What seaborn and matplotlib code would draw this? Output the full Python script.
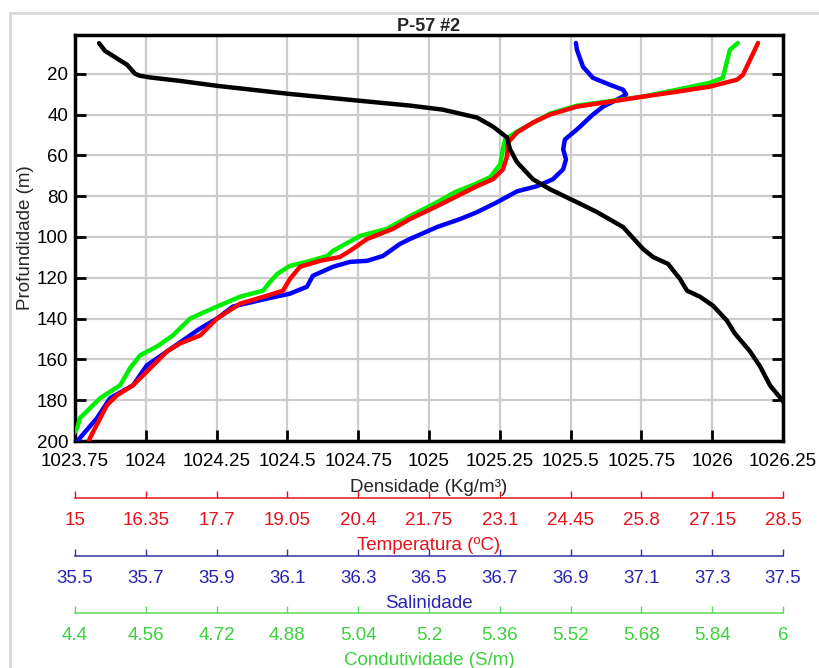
import matplotlib
matplotlib.use("Agg")
import matplotlib.pyplot as plt
import seaborn as sns
import pandas as pd
from matplotlib.patches import Rectangle

# ---------------- data ----------------
dens_depth = [5, 8.8, 15.6, 20, 21, 21.8, 23.5, 25.9, 29.8, 33.2, 35.6, 37.6, 41.5, 45.9,
              51.2, 57, 63.4, 71.7, 76.6, 83, 87.8, 95.1, 105.9, 109.8, 113.2, 120.5, 126.3,
              129.3, 133.7, 141, 147.3, 156, 163.4, 172.7, 180.5, 186]
dens_val = [1023.835, 1023.856, 1023.934, 1023.962, 1023.980, 1024.015, 1024.121, 1024.251,
            1024.502, 1024.753, 1024.933, 1025.049, 1025.170, 1025.226, 1025.275, 1025.286,
            1025.311, 1025.367, 1025.427, 1025.523, 1025.593, 1025.685, 1025.756, 1025.791,
            1025.844, 1025.886, 1025.911, 1025.957, 1026.003, 1026.052, 1026.080, 1026.133,
            1026.169, 1026.204, 1026.250, 1026.28]

sal_depth = [4.9, 8.3, 16.6, 22, 25.4, 27.8, 30.2, 32.7, 36.1, 40, 47.3, 52.2, 57, 62, 66.8,
             71.7, 75.1, 77.6, 83, 87.8, 91.2, 95.1, 101, 103.4, 109.3, 111.7, 112.2, 114.6,
             119, 124.4, 127.8, 130.2, 134.1, 140, 144.9, 156.1, 162.9, 172.7, 179, 188.8,
             198.5, 201]
sal_val = [36.915, 36.918, 36.935, 36.963, 37.011, 37.048, 37.057, 37.031, 36.992, 36.963,
           36.918, 36.884, 36.879, 36.887, 36.879, 36.850, 36.805, 36.749, 36.692, 36.636,
           36.588, 36.523, 36.446, 36.418, 36.370, 36.325, 36.277, 36.229, 36.172, 36.155,
           36.107, 36.042, 35.946, 35.901, 35.853, 35.760, 35.703, 35.664, 35.599, 35.562,
           35.514, 35.505]

temp_depth = [4.9, 13.2, 20.5, 22.9, 26.3, 28.8, 31.2, 33.7, 36.1, 40, 43.9, 48.8, 53.7, 60.5,
              66.8, 71.7, 75.1, 80, 84.9, 91.2, 96, 101, 106.8, 109.8, 111.7, 114.6, 120.5,
              126.3, 128.8, 132.7, 140, 148.3, 152.2, 156.1, 165.9, 172.7, 177.6, 182.4,
              198.5, 201]
temp_val = [28.024, 27.871, 27.737, 27.623, 27.108, 26.479, 25.831, 25.201, 24.572, 24.057,
            23.733, 23.428, 23.256, 23.237, 23.161, 22.970, 22.665, 22.284, 21.903, 21.388,
            21.064, 20.568, 20.244, 20.053, 19.672, 19.290, 19.100, 18.966, 18.661, 18.146,
            17.708, 17.384, 17.002, 16.754, 16.373, 16.106, 15.801, 15.610, 15.286, 15.25]

cond_depth = [4.9, 8.3, 22, 24.4, 27.8, 31.2, 35.6, 39.5, 48.3, 52.2, 57, 64.4, 70.7, 74.1,
              78, 83, 89.8, 96, 99.5, 106.8, 109.3, 112.2, 114.1, 118.1, 122, 126.3, 129.3,
              134.1, 140, 148.3, 153.7, 158, 164.4, 172.7, 179, 188.8, 193.7, 200]
cond_val = [5.898, 5.880, 5.864, 5.835, 5.761, 5.684, 5.535, 5.474, 5.399, 5.372, 5.367,
            5.361, 5.338, 5.304, 5.259, 5.218, 5.157, 5.105, 5.044, 4.983, 4.970, 4.924,
            4.886, 4.857, 4.841, 4.825, 4.773, 4.721, 4.660, 4.621, 4.585, 4.547, 4.524,
            4.502, 4.457, 4.411, 4.405, 4.385]

dens_ticks = [1023.75, 1024, 1024.25, 1024.5, 1024.75, 1025, 1025.25, 1025.5, 1025.75, 1026, 1026.25]
dens_labels = ["1023.75", "1024", "1024.25", "1024.5", "1024.75", "1025", "1025.25",
               "1025.5", "1025.75", "1026", "1026.25"]
temp_ticks = [15, 16.35, 17.7, 19.05, 20.4, 21.75, 23.1, 24.45, 25.8, 27.15, 28.5]
sal_ticks = [35.5, 35.7, 35.9, 36.1, 36.3, 36.5, 36.7, 36.9, 37.1, 37.3, 37.5]
cond_ticks = [4.4, 4.56, 4.72, 4.88, 5.04, 5.2, 5.36, 5.52, 5.68, 5.84, 6]
depth_ticks = [20, 40, 60, 80, 100, 120, 140, 160, 180, 200]

title = "P-57 #2"

# ---------------- style ----------------
sns.set_style("white")
plt.rcParams["font.family"] = ["Liberation Sans", "DejaVu Sans"]
plt.rcParams["font.size"] = 13.5

W, H = 819, 668
fig = plt.figure(figsize=(W / 100, H / 100), dpi=100)

L, R = 75 / W, 783 / W
T, B = 1 - 35 / H, 1 - 441 / H
ax = fig.add_axes([L, B, R - L, T - B])

# outer light frame
fig.patches.append(Rectangle((10 / W, -0.2), 1.5, 1.2 - 13 / H, transform=fig.transFigure,
                             fill=False, edgecolor="#d9d9d9", linewidth=2, zorder=-10))

ax.set_xlim(dens_ticks[0], dens_ticks[-1])
ax.set_ylim(200, 1)
ax.set_xticks(dens_ticks)
ax.set_xticklabels(dens_labels)
ax.set_yticks(depth_ticks)
ax.grid(True, color="#cccccc", linewidth=1.6)
ax.set_axisbelow(True)
for s in ax.spines.values():
    s.set_linewidth(2.5)
    s.set_color("black")
ax.tick_params(direction="in", top=True, right=True, bottom=True, left=True,
               length=8, width=2, labelsize=13.5, colors="black")
ax.tick_params(axis="x", pad=9)
ax.tick_params(axis="y", pad=5)
ax.set_xlabel("Densidade (Kg/m³)", fontsize=13.5, labelpad=6)
ax.set_ylabel("Profundidade (m)", fontsize=13.5, labelpad=2)
ax.set_title(title, fontsize=13, fontweight="bold", pad=2)

lw = 3.2
series = [
    ("sal", sal_val, sal_depth, (sal_ticks[0], sal_ticks[-1]), "#0000ff"),
    ("cond", cond_val, cond_depth, (cond_ticks[0], cond_ticks[-1]), "#00ee00"),
    ("temp", temp_val, temp_depth, (temp_ticks[0], temp_ticks[-1]), "#ff0000"),
    ("dens", dens_val, dens_depth, (dens_ticks[0], dens_ticks[-1]), "black"),
]
for name, xv, yv, lim, col in series:
    tw = ax.twiny()
    tw.set_xlim(*lim)
    df = pd.DataFrame({"x": xv, "y": yv})
    sns.lineplot(data=df, x="x", y="y", sort=False, estimator=None, ax=tw,
                 color=col, linewidth=lw)
    tw.xaxis.set_visible(False)
    for s in tw.spines.values():
        s.set_visible(False)
    tw.set_xlabel("")
    tw.set_ylabel("")
ax.set_ylim(200, 1)

# secondary scales below
scales = [
    (498, temp_ticks, "Temperatura (ºC)", "#e3121c", "#e3121c"),
    (556, sal_ticks, "Salinidade", "#2626b0", "#3333aa"),
    (613, cond_ticks, "Condutividade (S/m)", "#3ad23a", "#5ad85a"),
]
for ypx, ticks, lab, tcol, lcol in scales:
    sa = fig.add_axes([L, 1 - ypx / H, R - L, 0.0001])
    sa.set_facecolor("none")
    for k in ("left", "right", "top"):
        sa.spines[k].set_visible(False)
    sa.spines["bottom"].set_color(lcol)
    sa.spines["bottom"].set_linewidth(1.1)
    sa.set_yticks([])
    sa.set_xlim(ticks[0], ticks[-1])
    sa.set_xticks(ticks)
    sa.set_xticklabels(["{:g}".format(t) for t in ticks])
    sa.tick_params(axis="x", direction="in", bottom=True, top=False, length=5, width=1,
                   color=lcol, labelcolor=tcol, labelsize=13.5, pad=10)
    sa.set_xlabel(lab, color=tcol, fontsize=13.5, labelpad=5.5)

fig.savefig("out.png", dpi=100)
